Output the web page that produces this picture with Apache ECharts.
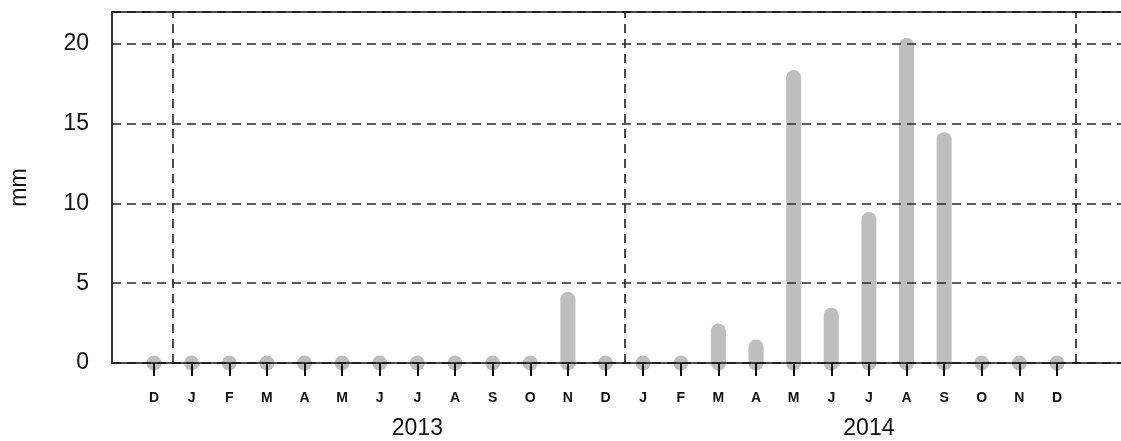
<!DOCTYPE html>
<html><head><meta charset="utf-8">
<script src="https://cdn.jsdelivr.net/npm/echarts@6/dist/echarts.min.js"></script>
<style>html,body{margin:0;padding:0;background:#fff}#c{width:1121px;height:441px}</style>
</head><body><div id="c"></div>
<script>
// ---- data ----
const monthLabels = ['D','J','F','M','A','M','J','J','A','S','O','N','D','J','F','M','A','M','J','J','A','S','O','N','D'];
const rainfall   = [0,0,0,0,0,0,0,0,0,0,0,4.0,0,0,0,2.0,1.0,17.9,3.0,9.0,19.9,14.0,0,0,0];
const yearLabels = ['2013','2014'];
const yearLabelPositions = [7,19];
const yearBoundaries = [0.5,12.5,24.5];
const yTickValues = [0,5,10,15,20];

// ---- layout ----
const XMIN = -1.1163, XMAX = 25.70;
const monthIdx = monthLabels.map((_, i) => i);
const FONT = '"Liberation Sans", Arial, sans-serif';
const dash = { type: [9, 6], color: '#2a2a2a', width: 1.7 };

const chart = echarts.init(document.getElementById('c'), null, { renderer: 'canvas' });
chart.setOption({
  animation: false,
  backgroundColor: '#fff',
  grid: { left: 112, right: 0, top: 12, bottom: 78, show: false, containLabel: false, outerBoundsMode: 'none' },
  xAxis: [
    {
      type: 'value', position: 'bottom', min: XMIN, max: XMAX, z: 5,
      axisLine: { show: true, onZero: false, lineStyle: { color: '#111', width: 1.7 } },
      axisTick: { show: true, customValues: monthIdx, length: 13, lineStyle: { color: '#111', width: 2 } },
      axisLabel: {
        customValues: monthIdx, margin: 28,
        formatter: v => monthLabels[Math.round(v)],
        fontFamily: FONT, fontSize: 14, fontWeight: 'bold', color: '#111'
      },
      splitLine: { show: false }
    },
    {
      type: 'value', position: 'bottom', min: XMIN, max: XMAX, z: 5,
      axisLine: { show: false, onZero: false }, axisTick: { show: false },
      axisLabel: {
        customValues: yearLabelPositions, margin: 54,
        formatter: v => yearLabels[yearLabelPositions.indexOf(Math.round(v))] || '',
        fontFamily: FONT, fontSize: 23, color: '#111'
      },
      splitLine: { show: false }
    },
    {
      type: 'value', position: 'top', min: XMIN, max: XMAX, z: 5,
      axisLine: { show: true, onZero: false, lineStyle: { color: '#111', width: 1.7 } },
      axisTick: { show: false }, axisLabel: { show: false }, splitLine: { show: false }
    }
  ],
  yAxis: {
    type: 'value', min: 0, max: 22, interval: 5, z: 5, position: 'left',
    name: 'mm', nameLocation: 'middle', nameRotate: 90, nameGap: 81,
    nameTextStyle: { fontFamily: FONT, fontSize: 23, color: '#111' },
    axisLine: { show: true, onZero: false, lineStyle: { color: '#111', width: 1.7 } },
    axisTick: { show: false },
    axisLabel: {
      margin: 23, fontFamily: FONT, fontSize: 23, color: '#111',
      showMaxLabel: false,
      formatter: v => yTickValues.indexOf(v) >= 0 ? String(v) : ''
    },
    splitLine: { show: true, lineStyle: dash }
  },
  series: [
    {
      type: 'custom', xAxisIndex: 0, yAxisIndex: 0, z: 1, clip: false,
      data: rainfall.map((v, i) => [i, v]),
      renderItem: function (params, api) {
        const x = api.value(0), v = api.value(1);
        const top = api.coord([x, v]);
        const bot = api.coord([x, 0]);
        const w = 15, r = w / 2;
        return {
          type: 'rect',
          shape: { x: top[0] - r, y: top[1] - r, width: w, height: bot[1] - top[1] + w, r: r },
          style: { fill: '#bebebe' }
        };
      }
    },
    {
      type: 'line', xAxisIndex: 0, yAxisIndex: 0, z: 3, data: [],
      markLine: {
        silent: true, symbol: ['none', 'none'], animation: false,
        label: { show: false },
        lineStyle: dash,
        data: yearBoundaries.map(b => ({ xAxis: b }))
      }
    }
  ]
});
</script>
</body></html>
